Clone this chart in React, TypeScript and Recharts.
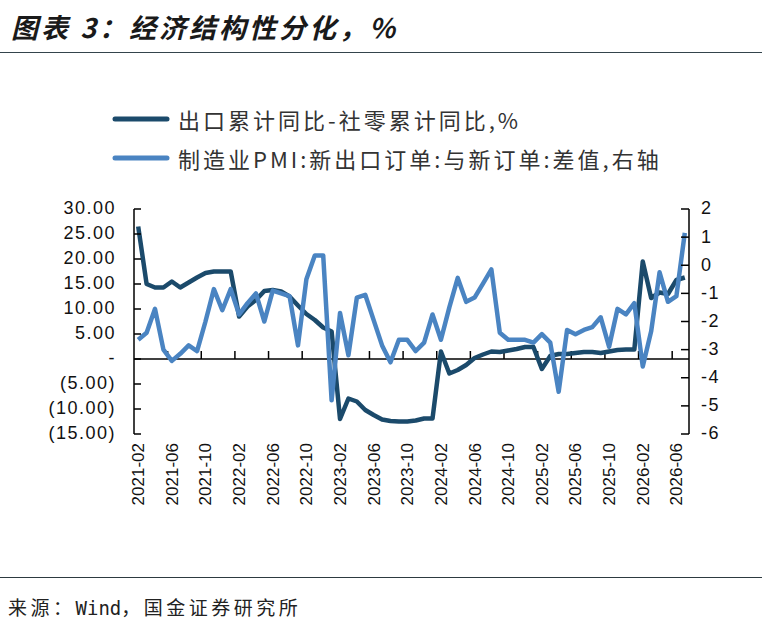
import React from 'react';
import { LineChart, Line, XAxis, YAxis, ReferenceLine } from 'recharts';

const months = [
  '2021-02', '2021-03', '2021-04', '2021-05', '2021-06', '2021-07', '2021-08', '2021-09', '2021-10', '2021-11', '2021-12',
  '2022-01', '2022-02', '2022-03', '2022-04', '2022-05', '2022-06', '2022-07', '2022-08', '2022-09', '2022-10', '2022-11', '2022-12',
  '2023-01', '2023-02', '2023-03', '2023-04', '2023-05', '2023-06', '2023-07', '2023-08', '2023-09', '2023-10', '2023-11', '2023-12',
  '2024-01', '2024-02', '2024-03', '2024-04', '2024-05', '2024-06', '2024-07', '2024-08', '2024-09', '2024-10', '2024-11', '2024-12',
  '2025-01', '2025-02', '2025-03', '2025-04', '2025-05', '2025-06', '2025-07', '2025-08', '2025-09', '2025-10', '2025-11', '2025-12',
  '2026-01', '2026-02', '2026-03', '2026-04', '2026-05', '2026-06', '2026-07',
];

// 出口累计同比-社零累计同比 (left axis)
const exportRetailGap = [
  26.5, 15.0, 14.3, 14.3, 15.5, 14.3, 15.3, 16.3, 17.2, 17.5, 17.5,
  17.5, 8.5, 10.5, 11.8, 13.6, 13.8, 13.5, 12.5, 10.7, 9.0, 7.8, 6.3,
  5.5, -12.0, -7.9, -8.5, -10.2, -11.2, -12.1, -12.4, -12.5, -12.5, -12.3, -11.9,
  -11.9, 1.5, -2.9, -2.2, -1.2, 0.2, 0.9, 1.5, 1.4, 1.7, 2.0, 2.4,
  2.4, -2.0, 0.6, 1.0, 1.0, 1.2, 1.4, 1.4, 1.2, 1.5, 1.8, 1.9,
  1.9, 19.5, 12.2, 13.3, 13.0, 15.8, 16.3,
];

// 制造业PMI 新出口订单与新订单差值 (right axis)
const pmiOrderGap = [
  -2.65, -2.4, -1.55, -3.0, -3.4, -3.15, -2.85, -3.05, -2.0, -0.85, -1.6,
  -0.85, -1.75, -1.35, -1.0, -2.0, -0.9, -1.0, -1.1, -2.85, -0.5, 0.35, 0.35,
  -4.8, -1.7, -3.2, -1.15, -1.05, -1.95, -2.85, -3.45, -2.65, -2.65, -3.05, -2.75,
  -1.75, -2.65, -1.5, -0.45, -1.3, -1.15, -0.65, -0.15, -2.4, -2.65, -2.65, -2.65,
  -2.75, -2.45, -2.75, -4.5, -2.3, -2.45, -2.3, -2.2, -1.85, -2.9, -1.55, -1.75,
  -1.35, -3.6, -2.35, -0.25, -1.3, -1.1, 1.15,
];

const xTickMonths = [
  '2021-02', '2021-06', '2021-10', '2022-02', '2022-06', '2022-10', '2023-02', '2023-06', '2023-10',
  '2024-02', '2024-06', '2024-10', '2025-02', '2025-06', '2025-10', '2026-02', '2026-06',
];
const leftTicks = [30, 25, 20, 15, 10, 5, 0, -5, -10, -15];
const rightTicks = [2, 1, 0, -1, -2, -3, -4, -5, -6];

const seriesNames = ['出口累计同比-社零累计同比,%', '制造业PMI:新出口订单:与新订单:差值,右轴'];

const DARK = '#1b4a6b';
const LIGHT = '#4a84c2';
const AXIS_FONT = '"Liberation Sans", Arial, sans-serif';
const CJK_FONT = '"Noto Sans CJK SC", "Noto Sans", sans-serif';
const HALF_STEP = 4.2;

const data = months.map((m, i) => ({ month: m, exportGap: exportRetailGap[i], pmiGap: pmiOrderGap[i] }));

const fmtLeft = (v: number) => (v === 0 ? '-' : v < 0 ? `(${Math.abs(v).toFixed(2)})` : v.toFixed(2));

const LeftTick = (props: any) => {
  const { x, y, payload } = props;
  return (
    <g>
      <line x1={x} x2={x + 7} y1={y} y2={y} stroke="#000" strokeWidth={1.5} />
      <text x={x - 18} y={y} dy="0.3em" textAnchor="end" fontFamily={AXIS_FONT} fontSize={18} letterSpacing={1.5} fill="#111">
        {fmtLeft(payload.value)}
      </text>
    </g>
  );
};

const RightTick = (props: any) => {
  const { x, y, payload } = props;
  return (
    <g>
      <line x1={x - 8} x2={x} y1={y} y2={y} stroke="#000" strokeWidth={1.5} />
      <text x={x + 12} y={y} dy="0.3em" textAnchor="start" fontFamily={AXIS_FONT} fontSize={18} letterSpacing={1.5} fill="#111">
        {payload.value}
      </text>
    </g>
  );
};

const MonthTick = (props: any) => {
  const { x, y, payload } = props;
  const ty = y + 9;
  return (
    <text
      x={x}
      y={ty}
      dy="0.35em"
      transform={`rotate(-90 ${x} ${ty})`}
      textAnchor="end"
      fontFamily={AXIS_FONT}
      fontSize={17}
      fill="#111"
    >
      {payload.value}
    </text>
  );
};

const ZeroTick = (p: any) => (
  <line x1={p.x1 - HALF_STEP} x2={p.x2 - HALF_STEP} y1={p.y1} y2={p.y2} stroke="#000" strokeWidth={1.5} />
);

const LegendRow = ({ color, label, top }: { color: string; label: string; top: number }) => (
  <div style={{ position: 'absolute', left: 112, top, height: 30, display: 'flex', alignItems: 'center' }}>
    <svg width={58} height={8} style={{ display: 'block' }}>
      <line x1={3} x2={55} y1={4} y2={4} stroke={color} strokeWidth={5} strokeLinecap="round" />
    </svg>
    <span style={{ marginLeft: 8, fontFamily: CJK_FONT, fontSize: 22, letterSpacing: 3, color: '#333', whiteSpace: 'nowrap' }}>
      {label}
    </span>
  </div>
);

export default function App() {
  return (
    <div style={{ position: 'absolute', left: 0, top: 0, width: 762, height: 626, background: '#fff', overflow: 'hidden' }}>
      <div
        style={{
          position: 'absolute', left: 11, top: 10, lineHeight: '34px', fontFamily: CJK_FONT, fontSize: 27,
          fontWeight: 700, fontStyle: 'italic', letterSpacing: 3, color: '#1a1a1a', whiteSpace: 'nowrap',
        }}
      >
        图表 3：经济结构性分化，%
      </div>
      <div style={{ position: 'absolute', left: 0, top: 52, width: 762, borderTop: '1.5px solid #34444c' }} />

      <LegendRow color={DARK} label={seriesNames[0]} top={104} />
      <LegendRow color={LIGHT} label={seriesNames[1]} top={143} />

      <div style={{ position: 'absolute', left: 0, top: 0 }}>
        <LineChart width={762} height={520} data={data} margin={{ top: 209, right: 0, bottom: 0, left: 0 }}>
          <XAxis
            dataKey="month"
            interval={3}
            axisLine={false}
            tickLine={false}
            tickSize={0}
            tickMargin={0}
            height={86}
            padding={{ left: HALF_STEP, right: HALF_STEP }}
            tick={<MonthTick />}
          />
          <YAxis
            yAxisId="left"
            orientation="left"
            width={134}
            domain={[-15, 30]}
            ticks={leftTicks}
            interval={0}
            axisLine={{ stroke: '#000', strokeWidth: 1.5 }}
            tickLine={false}
            tickSize={0}
            tickMargin={0}
            tick={<LeftTick />}
          />
          <YAxis
            yAxisId="right"
            orientation="right"
            width={73}
            domain={[-6, 2]}
            ticks={rightTicks}
            interval={0}
            axisLine={{ stroke: '#000', strokeWidth: 1.5 }}
            tickLine={false}
            tickSize={0}
            tickMargin={0}
            tick={<RightTick />}
          />
          <ReferenceLine yAxisId="left" y={0} stroke="#000" strokeWidth={1.5} />
          {xTickMonths.slice(1).map((m) => (
            <ReferenceLine
              key={m}
              yAxisId="left"
              segment={[{ x: m, y: 0 }, { x: m, y: 1.6 }]}
              shape={ZeroTick}
            />
          ))}
          <Line
            yAxisId="left"
            type="linear"
            dataKey="exportGap"
            name={seriesNames[0]}
            stroke={DARK}
            strokeWidth={4.5}
            strokeLinejoin="round"
            dot={false}
            isAnimationActive={false}
          />
          <Line
            yAxisId="right"
            type="linear"
            dataKey="pmiGap"
            name={seriesNames[1]}
            stroke={LIGHT}
            strokeWidth={4.5}
            strokeLinejoin="round"
            dot={false}
            isAnimationActive={false}
          />
        </LineChart>
      </div>

      <div style={{ position: 'absolute', left: 0, top: 577, width: 762, borderTop: '1.5px solid #2d3a40' }} />
      <div
        style={{
          position: 'absolute', left: 8, top: 593, lineHeight: '28px', fontFamily: CJK_FONT, fontSize: 19,
          letterSpacing: 3.5, color: '#222', whiteSpace: 'nowrap',
        }}
      >
        来源：<span style={{ fontFamily: '"DejaVu Sans Mono", monospace', letterSpacing: 0 }}>Wind</span>，国金证券研究所
      </div>
    </div>
  );
}
